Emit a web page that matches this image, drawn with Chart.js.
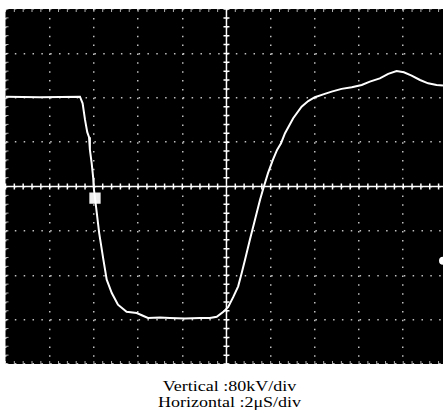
<!DOCTYPE html>
<html>
<head>
<meta charset="utf-8">
<script src="https://cdn.jsdelivr.net/npm/chart.js@4.4.1/dist/chart.umd.min.js"></script>
<style>
  html, body { margin: 0; padding: 0; background: #fff; }
  #wrap { position: relative; width: 443px; height: 368px; }
  .caption {
    position: absolute; left: 0; top: 378px; width: 459px;
    font-family: "Liberation Serif", "DejaVu Serif", serif; font-size: 15px;
    line-height: 16px; color: #000; text-align: center;
  }
  .caption div { transform: scaleX(1.2); }
</style>
</head>
<body>
<div id="wrap"><canvas id="scope"></canvas></div>
<div class="caption">
  <div>Vertical :80kV/div</div>
  <div>Horizontal :2&mu;S/div</div>
</div>
<script>
// time in microseconds (2 uS/div), voltage in kV (80 kV/div)
var timeUs = [0, 1.56, 3.37, 3.49, 3.60, 3.70, 3.78, 3.82, 3.90, 3.97, 3.99, 4.05, 4.10, 4.24, 4.43, 4.58,
    4.81, 5.09, 5.48, 5.94, 6.22, 6.45, 6.99, 7.44, 8.12, 8.80, 9.25, 9.56, 9.86, 10.08, 10.31, 10.53,
    10.69, 10.84, 11.06, 11.29, 11.52, 11.67, 11.88, 12.10, 12.29, 12.47, 12.65, 13.02, 13.40, 13.70,
    14.00, 14.38, 14.76, 15.21, 15.67, 16.12, 16.49, 16.94, 17.32, 17.70, 18.03, 18.38, 18.76, 19.13,
    19.51, 19.80];
var voltKv = [162, 161, 162, 150, 120, 98, 89, 66, 42, 15, -1, -21, -37, -84, -132, -168,
    -192, -213, -226, -228, -233, -237, -236, -237, -238, -237, -237, -235, -226, -217, -199, -180,
    -156, -132, -96, -60, -24, -3, 24, 48, 66, 78, 96, 123, 144, 154,
    161, 166, 171, 176, 179, 183, 189, 195, 203, 208, 206, 200, 192, 186,
    183, 182];

// trigger marker (square) and level marker (right edge)
var triggerPoint = [{ x: 4.05, y: -21 }];
var levelPoint = [{ x: 19.8, y: -134 }];

var xTicks = [0, 2, 4, 6, 8, 10, 12, 14, 16, 18];
var yTicks = [-320, -240, -160, -80, 0, 80, 160, 240, 320];
var xMin = 0, xMax = 19.8, yMin = -320, yMax = 320;

var trace = timeUs.map(function (t, i) { return { x: t, y: voltKv[i] }; });

var scopeFace = {
    id: 'scopeFace',
    beforeDraw: function (chart) {
        var ctx = chart.ctx, a = chart.chartArea;
        ctx.save();
        ctx.fillStyle = '#000';
        ctx.fillRect(a.left, a.top, a.right - a.left, a.bottom - a.top);
        ctx.restore();
    },
    beforeDatasetsDraw: function (chart) {
        var ctx = chart.ctx, a = chart.chartArea;
        var x = chart.scales.x, y = chart.scales.y;
        var cx = x.getPixelForValue(10), cy = y.getPixelForValue(0);
        var i, p;
        ctx.save();
        // centre cross with minor ticks
        ctx.strokeStyle = '#fff';
        ctx.lineWidth = 1.5;
        ctx.beginPath();
        ctx.moveTo(a.left, cy); ctx.lineTo(a.right, cy);
        ctx.moveTo(cx, a.top); ctx.lineTo(cx, a.bottom);
        for (i = 0; i * 0.4 <= xMax; i++) {
            p = x.getPixelForValue(i * 0.4);
            ctx.moveTo(p, cy - 3); ctx.lineTo(p, cy + 3);
        }
        for (i = -20; i <= 20; i++) {
            p = y.getPixelForValue(i * 16);
            ctx.moveTo(cx - 3, p); ctx.lineTo(cx + 3, p);
        }
        ctx.stroke();
        // short ticks on the edges
        ctx.strokeStyle = 'rgba(255,255,255,0.7)';
        ctx.lineWidth = 1;
        ctx.beginPath();
        for (i = 0; i * 0.4 <= xMax; i++) {
            p = x.getPixelForValue(i * 0.4);
            ctx.moveTo(p, a.top); ctx.lineTo(p, a.top + 3);
            ctx.moveTo(p, a.bottom); ctx.lineTo(p, a.bottom - 3);
        }
        for (i = -20; i <= 20; i++) {
            p = y.getPixelForValue(i * 16);
            ctx.moveTo(a.left, p); ctx.lineTo(a.left + 3, p);
        }
        ctx.stroke();
        ctx.restore();
    }
};

var scopeChart = new Chart(document.getElementById('scope'), {
    type: 'line',
    data: {
        datasets: [{
            label: 'Trace',
            data: trace,
            borderColor: '#fff',
            borderWidth: 2,
            pointRadius: 0,
            tension: 0
        }, {
            label: 'Trigger',
            data: triggerPoint,
            showLine: false,
            pointStyle: 'rect',
            pointRadius: 8,
            backgroundColor: '#eee',
            borderColor: '#eee',
            borderWidth: 0
        }, {
            label: 'Level',
            data: levelPoint,
            showLine: false,
            pointStyle: 'circle',
            pointRadius: 4,
            backgroundColor: '#fff',
            borderColor: '#fff',
            borderWidth: 0
        }]
    },
    options: {
        responsive: true,
        maintainAspectRatio: false,
        animation: false,
        layout: { autoPadding: false, padding: { left: 5.5, top: 9, right: 0, bottom: 4 } },
        plugins: {
            legend: { display: false },
            tooltip: { enabled: false }
        },
        scales: {
            x: {
                type: 'linear',
                min: xMin,
                max: xMax,
                afterBuildTicks: function (s) { s.ticks = xTicks.map(function (v) { return { value: v }; }); },
                ticks: { display: false },
                grid: { color: 'rgba(255,255,255,0.75)', lineWidth: 1.5, drawTicks: false },
                border: { display: false, dash: [1.5, 7.38] }
            },
            y: {
                type: 'linear',
                min: yMin,
                max: yMax,
                afterBuildTicks: function (s) { s.ticks = yTicks.map(function (v) { return { value: v }; }); },
                ticks: { display: false },
                grid: { color: 'rgba(255,255,255,0.75)', lineWidth: 1.5, drawTicks: false },
                border: { display: false, dash: [1.5, 7.34] }
            }
        }
    },
    plugins: [scopeFace]
});
</script>
</body>
</html>
